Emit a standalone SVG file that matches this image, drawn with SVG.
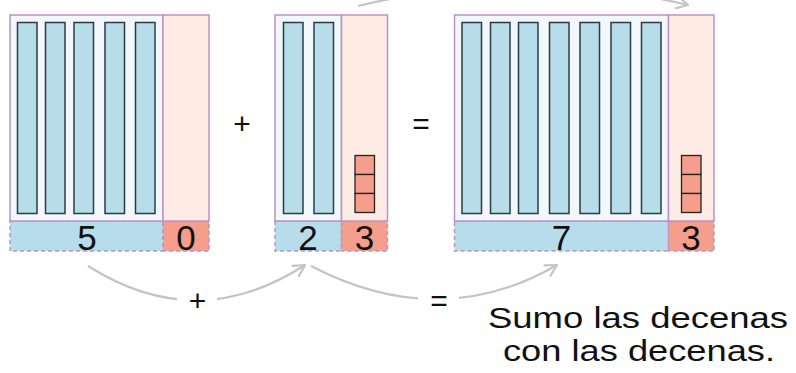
<svg xmlns="http://www.w3.org/2000/svg" width="796" height="373" viewBox="0 0 796 373">
<defs>
<style>
.tens{fill:#f1f7fa;stroke:#b894c8;stroke-width:1.5}
.ones{fill:#fdebe4;stroke:#b894c8;stroke-width:1.5}
.rod{fill:#b6dde9;stroke:#2e3b40;stroke-width:1.5}
.cube{fill:#f49e8b;stroke:#222;stroke-width:1.3}
.lt{fill:#b6dde9;stroke:#b894c8;stroke-width:1.5;stroke-dasharray:4 3}
.lo{fill:#f49e8b;stroke:#b894c8;stroke-width:1.5;stroke-dasharray:4 3}
.dig{font-family:"Liberation Sans",Arial,sans-serif;font-size:35px;fill:#111;text-anchor:middle}
.op{font-family:"Liberation Sans",Arial,sans-serif;font-size:30px;fill:#111;text-anchor:middle}
.arc{fill:none;stroke:#c4c4c4;stroke-width:2.2}
.cap{font-family:"Liberation Sans",Arial,sans-serif;font-size:29px;fill:#111;text-anchor:middle}
</style>
<marker id="ah" markerUnits="userSpaceOnUse" markerWidth="16" markerHeight="16" viewBox="0 0 16 16" refX="14" refY="8" orient="auto">
<path d="M3,2 L14,8 L3,14" fill="none" stroke="#c4c4c4" stroke-width="2.2" stroke-linejoin="round" stroke-linecap="round"/>
</marker>
</defs>
<rect width="796" height="373" fill="#fff"/>

<g id="block50">
<rect class="lt" x="10" y="221" width="153" height="30"/>
<rect class="lo" x="163" y="221" width="46" height="30"/>
<rect class="tens" x="10" y="15" width="153" height="206"/>
<rect class="ones" x="163" y="15" width="46" height="206"/>
<rect class="rod" x="17.5" y="22.5" width="19.5" height="191"/>
<rect class="rod" x="45.5" y="22.5" width="19.5" height="191"/>
<rect class="rod" x="74" y="22.5" width="19.5" height="191"/>
<rect class="rod" x="105" y="22.5" width="19.5" height="191"/>
<rect class="rod" x="135.5" y="22.5" width="19.5" height="191"/>
<text class="dig" x="87" y="250">5</text>
<text class="dig" x="186" y="250">0</text>
</g>

<g id="plus-sign"><text class="op" x="242" y="133.5">+</text></g>

<g id="block23">
<rect class="lt" x="275" y="221" width="66.5" height="30"/>
<rect class="lo" x="341.5" y="221" width="46" height="30"/>
<rect class="tens" x="275" y="15" width="66.5" height="206"/>
<rect class="ones" x="341.5" y="15" width="46" height="206"/>
<rect class="rod" x="283.5" y="22.5" width="19.5" height="191"/>
<rect class="rod" x="314" y="22.5" width="19.5" height="191"/>
<rect class="cube" x="355" y="155.5" width="19.5" height="19"/>
<rect class="cube" x="355" y="174.5" width="19.5" height="19"/>
<rect class="cube" x="355" y="193.5" width="19.5" height="19"/>
<text class="dig" x="308" y="250">2</text>
<text class="dig" x="364.5" y="250">3</text>
</g>

<g id="equals-sign"><text class="op" x="421" y="133.5">=</text></g>

<g id="block73">
<rect class="lt" x="454.5" y="221" width="214" height="30"/>
<rect class="lo" x="668.5" y="221" width="45.5" height="30"/>
<rect class="tens" x="454.5" y="15" width="214" height="206"/>
<rect class="ones" x="668.5" y="15" width="45.5" height="206"/>
<rect class="rod" x="462" y="22.5" width="19.5" height="191"/>
<rect class="rod" x="490.5" y="22.5" width="19.5" height="191"/>
<rect class="rod" x="518.5" y="22.5" width="19.5" height="191"/>
<rect class="rod" x="549.5" y="22.5" width="19.5" height="191"/>
<rect class="rod" x="580" y="22.5" width="19.5" height="191"/>
<rect class="rod" x="611" y="22.5" width="19.5" height="191"/>
<rect class="rod" x="641.5" y="22.5" width="19.5" height="191"/>
<rect class="cube" x="681.5" y="155.5" width="19.5" height="19"/>
<rect class="cube" x="681.5" y="174.5" width="19.5" height="19"/>
<rect class="cube" x="681.5" y="193.5" width="19.5" height="19"/>
<text class="dig" x="561.5" y="250">7</text>
<text class="dig" x="691" y="250">3</text>
</g>

<g id="connectors">
<path class="arc" d="M358,6 Q523,-34 688,5" marker-end="url(#ah)"/>
<path class="arc" d="M88,266 Q197,335 305,265" marker-end="url(#ah)"/>
<rect x="177" y="286" width="40" height="26" fill="#fff"/>
<text class="op" x="197.5" y="311">+</text>
<path class="arc" d="M311,266 Q440,333 557,265" marker-end="url(#ah)"/>
<rect x="418" y="286" width="41" height="26" fill="#fff"/>
<text class="op" x="439" y="310.5">=</text>
</g>

<g id="caption">
<text class="cap" x="638" y="328" textLength="300" lengthAdjust="spacingAndGlyphs">Sumo las decenas</text>
<text class="cap" x="639" y="361" textLength="272" lengthAdjust="spacingAndGlyphs">con las decenas.</text>
</g>
</svg>
